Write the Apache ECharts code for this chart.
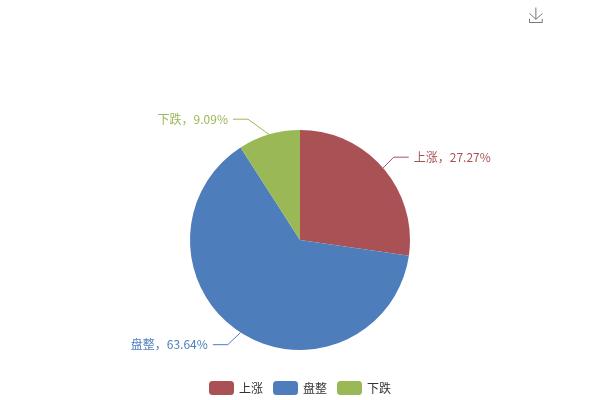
<!DOCTYPE html>
<html>
<head>
<meta charset="utf-8">
<script src="https://cdn.jsdelivr.net/npm/echarts@6/dist/echarts.min.js"></script>
<style>html,body{margin:0;padding:0;background:#fff}#main{width:600px;height:400px}</style>
</head>
<body>
<div id="main"></div>
<script>
var categories = ['上涨', '盘整', '下跌'];
var seriesValues = [3, 7, 1];
var colors = ['#AA5155', '#4D7EBB', '#9AB855'];

var chart = echarts.init(document.getElementById('main'));
chart.setOption({
    color: colors,
    textStyle: { fontFamily: 'Noto Sans CJK SC' },
    toolbox: {
        left: 512, top: -10,
        iconStyle: { borderColor: '#777' },
        feature: { saveAsImage: { title: '' } }
    },
    legend: {
        top: 376,
        left: 204,
        itemGap: 10,
        data: categories,
        itemWidth: 25, itemHeight: 14,
        textStyle: { fontSize: 12, color: '#333' }
    },
    series: [{
        type: 'pie',
        center: [300, 240],
        radius: [0, 110],
        animation: false,
        label: {
            color: 'inherit',
            formatter: function (p) { return p.name + '，' + p.percent.toFixed(2) + '%'; },
            fontSize: 12
        },
        labelLine: { length: 18, length2: 15 },
        labelLayout: function (params) {
            // nudge labels, keep the line's start on the slice
            var shift = [[-3, 1], [-3, -3], [-16, 2]][params.dataIndex];
            var pts = params.labelLinePoints;
            return {
                dx: shift[0],
                dy: shift[1],
                labelLinePoints: [
                    pts[0],
                    [pts[1][0] + shift[0], pts[1][1] + shift[1]],
                    [pts[2][0] + shift[0], pts[2][1] + shift[1]]
                ]
            };
        },
        data: categories.map(function (c, i) { return { name: c, value: seriesValues[i] }; })
    }]
});
</script>
</body>
</html>
